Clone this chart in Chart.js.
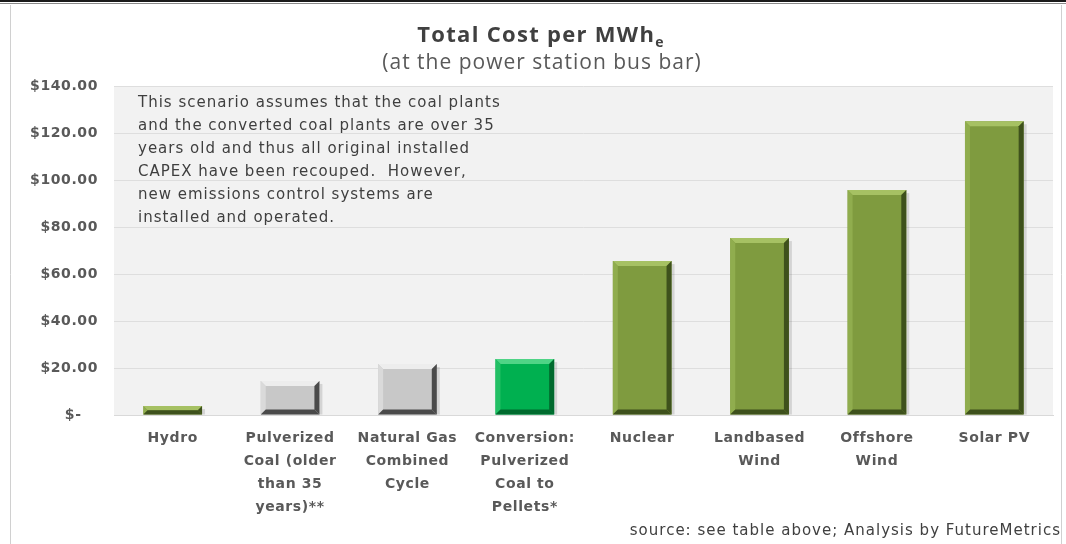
<!DOCTYPE html>
<html>
<head>
<meta charset="utf-8">
<script src="https://cdn.jsdelivr.net/npm/chart.js@4.4.1/dist/chart.umd.min.js"></script>
<style>
  html, body { margin: 0; padding: 0; background: #fff; }
  #wrap { width: 1066px; height: 544px; position: relative; }
</style>
</head>
<body>
<div id="wrap"><canvas id="costChart" width="1066" height="544"></canvas></div>
<script>
// data
const categories = [
  ['Hydro'],
  ['Pulverized', 'Coal (older', 'than 35', 'years)**'],
  ['Natural Gas', 'Combined', 'Cycle'],
  ['Conversion:', 'Pulverized', 'Coal to', 'Pellets*'],
  ['Nuclear'],
  ['Landbased', 'Wind'],
  ['Offshore', 'Wind'],
  ['Solar PV']
];
const costPerMWh = [3.8, 14.5, 21.7, 23.8, 65.5, 75.3, 95.7, 125.0];
const yTicks = [0, 20, 40, 60, 80, 100, 120, 140];
const noteLines = [
  'This scenario assumes that the coal plants',
  'and the converted coal plants are over 35',
  'years old and thus all original installed',
  'CAPEX have been recouped.  However,',
  'new emissions control systems are',
  'installed and operated.'
];

// bar looks: [face, top bevel, left bevel, dark edge]
const green = ['#7f9b3f', '#a6c163', '#90ad4e', '#3e511c'];
const grey = ['#c8c8c8', '#ededed', '#dadada', '#4a4a4a'];
const bright = ['#00b050', '#4fd486', '#22c065', '#006a2e'];
const barLooks = [green, grey, grey, bright, green, green, green, green];

const FONT = 'DejaVu Sans';
const textGrey = '#595959';

function money(v) {
  if (v === 0) return '$-   ';
  return '$' + v.toFixed(2);
}

const framePlugin = {
  id: 'frame',
  beforeDraw(chart) {
    const ctx = chart.ctx;
    const a = chart.chartArea;
    ctx.save();
    ctx.fillStyle = '#fff';
    ctx.fillRect(0, 0, chart.width, chart.height);
    // outer frame
    ctx.fillStyle = '#1a1a1a';
    ctx.fillRect(0, 0, chart.width, 2);
    ctx.fillStyle = '#8a8a8a';
    ctx.fillRect(0, 3, chart.width, 1);
    ctx.strokeStyle = '#d0d0d0';
    ctx.lineWidth = 1;
    ctx.beginPath();
    ctx.moveTo(10.5, 5);
    ctx.lineTo(10.5, chart.height);
    ctx.moveTo(chart.width - 4.5, 5);
    ctx.lineTo(chart.width - 4.5, chart.height);
    ctx.stroke();
    // plot background
    ctx.fillStyle = '#f2f2f2';
    ctx.fillRect(a.left, a.top, a.right - a.left, a.bottom - a.top);
    ctx.restore();
    // the original is drawn wide, so space the tick letters out a bit
    ctx.letterSpacing = '0.6px';
  },
  afterDraw(chart) {
    const ctx = chart.ctx;
    const a = chart.chartArea;
    ctx.save();
    // titles
    ctx.fillStyle = '#404040';
    ctx.textBaseline = 'alphabetic';
    ctx.letterSpacing = '1.3px';
    ctx.font = 'bold 22px "Open Sans"';
    const main = 'Total Cost per MWh';
    const w = ctx.measureText(main).width;
    ctx.font = 'bold 14px "Open Sans"';
    const ws = ctx.measureText('e').width;
    const x0 = 541 - (w + ws) / 2;
    ctx.font = 'bold 22px "Open Sans"';
    ctx.textAlign = 'left';
    ctx.fillText(main, x0, 42);
    ctx.font = 'bold 14px "Open Sans"';
    ctx.fillText('e', x0 + w, 47);
    ctx.fillStyle = textGrey;
    ctx.letterSpacing = '1px';
    ctx.font = '21px "Open Sans"';
    ctx.textAlign = 'center';
    ctx.fillText('(at the power station bus bar)', 542, 69);
    // note inside plot
    ctx.fillStyle = '#3f3f3f';
    ctx.letterSpacing = '1px';
    ctx.font = '15px ' + FONT;
    ctx.textAlign = 'left';
    noteLines.forEach((t, i) => ctx.fillText(t, a.left + 24, 107 + i * 23));
    // source
    ctx.fillStyle = '#404040';
    ctx.textAlign = 'right';
    ctx.fillText('source: see table above; Analysis by FutureMetrics', 1061, 535);
    ctx.restore();
    ctx.letterSpacing = '0px';
  }
};

const bevelPlugin = {
  id: 'bevel',
  afterDatasetsDraw(chart) {
    const ctx = chart.ctx;
    const meta = chart.getDatasetMeta(0);
    meta.data.forEach((bar, i) => {
      const p = bar.getProps(['x', 'y', 'base', 'width'], true);
      const l = p.x - p.width / 2, r = p.x + p.width / 2;
      const t = p.y, b = p.base;
      const look = barLooks[i];
      const e = Math.min(5, (b - t) / 2);
      ctx.save();
      // soft shadow right side
      ctx.fillStyle = 'rgba(0,0,0,0.12)';
      ctx.fillRect(r, t + 3, 3, b - t - 3);
      const poly = (pts, col) => {
        ctx.fillStyle = col;
        ctx.beginPath();
        ctx.moveTo(pts[0][0], pts[0][1]);
        for (let k = 1; k < pts.length; k++) ctx.lineTo(pts[k][0], pts[k][1]);
        ctx.closePath();
        ctx.fill();
      };
      poly([[l, t], [r, t], [r - e, t + e], [l + e, t + e]], look[1]);
      poly([[l, t], [l + e, t + e], [l + e, b - e], [l, b]], look[2]);
      poly([[r, t], [r, b], [r - e, b - e], [r - e, t + e]], look[3]);
      poly([[l, b], [r, b], [r - e, b - e], [l + e, b - e]], look[3]);
      ctx.restore();
    });
  }
};

new Chart(document.getElementById('costChart'), {
  type: 'bar',
  data: {
    labels: categories,
    datasets: [{
      label: 'Total Cost per MWh',
      data: costPerMWh,
      backgroundColor: barLooks.map(l => l[0]),
      borderWidth: 0,
      barPercentage: 0.5,
      categoryPercentage: 1.0
    }]
  },
  options: {
    responsive: false,
    animation: false,
    layout: { padding: { top: 86, right: 13, bottom: 0, left: 0 } },
    plugins: {
      legend: { display: false },
      title: { display: false },
      tooltip: { enabled: false }
    },
    scales: {
      x: {
        grid: { display: false, drawTicks: false },
        border: { display: true, color: '#d9d9d9' },
        ticks: {
          color: textGrey,
          font: { family: FONT, size: 14, weight: 'bold', lineHeight: 23 / 14 },
          padding: 12,
          maxRotation: 0,
          autoSkip: false
        },
        afterFit(axis) { axis.height = 544 - 415; }
      },
      y: {
        min: 0,
        max: 140,
        afterBuildTicks(axis) { axis.ticks = yTicks.map(v => ({ value: v })); },
        grid: { color: '#dedede', drawTicks: false },
        border: { display: false },
        ticks: {
          color: textGrey,
          font: { family: FONT, size: 14, weight: 'bold' },
          padding: 16,
          callback: v => money(v)
        },
        afterFit(axis) { axis.width = 114; }
      }
    }
  },
  plugins: [framePlugin, bevelPlugin]
});
</script>
</body>
</html>
